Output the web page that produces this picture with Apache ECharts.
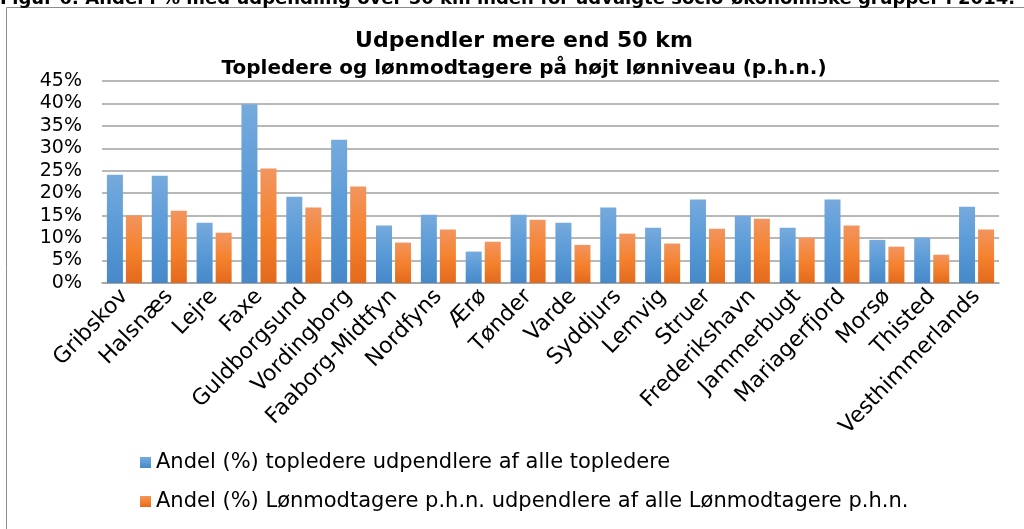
<!DOCTYPE html>
<html>
<head>
<meta charset="utf-8">
<script src="https://cdn.jsdelivr.net/npm/echarts@6/dist/echarts.min.js"></script>
<style>
html,body{margin:0;padding:0;background:#fff;}
#chart{width:1024px;height:529px;}
</style>
</head>
<body>
<div id="chart"></div>
<script>
const categories = ["Gribskov","Halsnæs","Lejre","Faxe","Guldborgsund","Vordingborg","Faaborg-Midtfyn","Nordfyns","Ærø","Tønder","Varde","Syddjurs","Lemvig","Struer","Frederikshavn","Jammerbugt","Mariagerfjord","Morsø","Thisted","Vesthimmerlands"];
const topledere = [24.1,23.9,13.4,39.8,19.2,31.9,12.8,15.2,7.0,15.2,13.4,16.8,12.3,18.6,15.0,12.3,18.6,9.6,10.1,17.0];
const loenmodtagere = [15.1,16.1,11.2,25.5,16.8,21.5,9.0,11.9,9.2,14.1,8.5,11.0,8.8,12.1,14.3,10.1,12.8,8.1,6.3,11.9];
const seriesNames = ["Andel (%) topledere udpendlere af alle topledere","Andel (%) Lønmodtagere p.h.n. udpendlere af alle Lønmodtagere p.h.n."];
const titleText = "Udpendler mere end 50 km";
const subtitleText = "Topledere og lønmodtagere på højt lønniveau (p.h.n.)";
const captionText = "Figur 6: Andel i % med udpendling over 50 km inden for udvalgte socio-økonomiske grupper i 2014.";

const FONT = "DejaVu Sans";
const chart = echarts.init(document.getElementById('chart'), null, {renderer:'canvas'});
const blueGrad = new echarts.graphic.LinearGradient(0,0,0,1,[{offset:0,color:'#76aadd'},{offset:0.5,color:'#5a9ad7'},{offset:1,color:'#4688c9'}]);
const orangeGrad = new echarts.graphic.LinearGradient(0,0,0,1,[{offset:0,color:'#f2955f'},{offset:0.5,color:'#f5822f'},{offset:1,color:'#e36a1b'}]);
chart.setOption({
  animation:false,
  backgroundColor:'#fff',
  graphic:[
    {type:'rect', shape:{x:6.5,y:7.5,width:1100,height:600}, style:{fill:'none',stroke:'#8c8c8c',lineWidth:1}, z:-1},
    {type:'text', left:0, top:-10, style:{text:captionText, font:'bold 18px "DejaVu Sans"', fill:'#000'}}
  ],
  title:[
    {text:titleText, left:519, textAlign:'center', top:25, textStyle:{fontFamily:FONT,fontWeight:'bold',fontSize:22,color:'#000'}},
    {text:subtitleText, left:519, textAlign:'center', top:54, textStyle:{fontFamily:FONT,fontWeight:'bold',fontSize:20,color:'#000'}}
  ],
  legend:{
    orient:'vertical', left:135, top:447, itemWidth:11, itemHeight:11, itemGap:18,
    icon:'rect',
    textStyle:{fontFamily:FONT,fontSize:21,color:'#000',lineHeight:21}
  },
  grid:{left:102, right:25, top:81, bottom:246, containLabel:false},
  xAxis:{
    type:'category', data:categories,
    axisLine:{lineStyle:{color:'#a0a0a0',width:1.5}},
    axisTick:{show:false},
    axisLabel:{rotate:46, interval:0, margin:10, fontFamily:FONT, fontSize:22, color:'#000'}
  },
  yAxis:{
    type:'value', min:0, max:45, interval:5,
    axisLine:{show:false}, axisTick:{show:false},
    splitLine:{lineStyle:{color:'#a0a0a0',width:1.5}},
    axisLabel:{formatter:'{value}%', margin:20, fontFamily:FONT, fontSize:19, color:'#000'}
  },
  series:[
    {name:seriesNames[0], type:'bar', data:topledere, barWidth:16, barGap:'19%', itemStyle:{color:blueGrad}},
    {name:seriesNames[1], type:'bar', data:loenmodtagere, barWidth:16, barGap:'19%', itemStyle:{color:orangeGrad}}
  ]
});
</script>
</body>
</html>
